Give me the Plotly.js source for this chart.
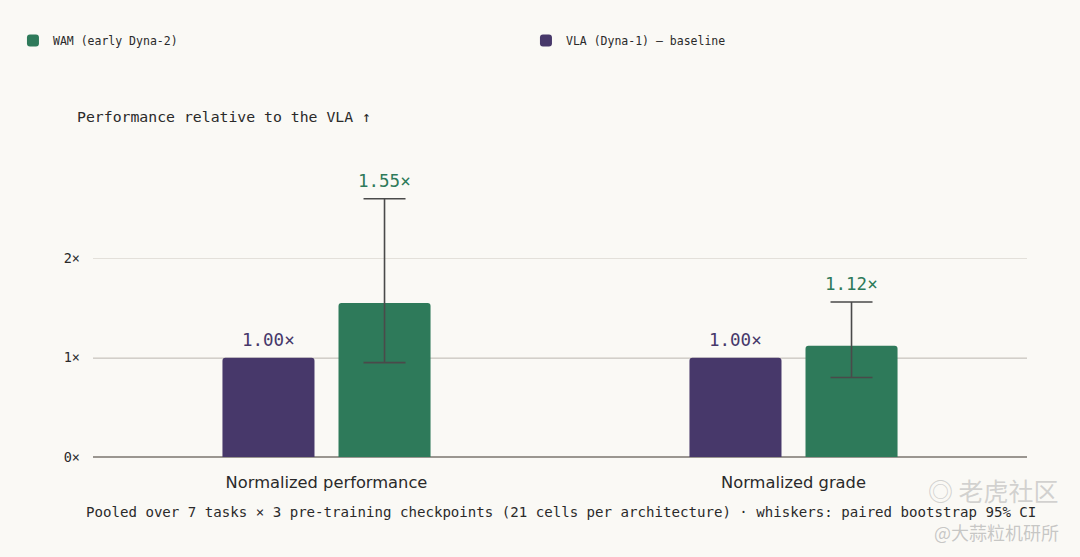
<!DOCTYPE html>
<html>
<head>
<meta charset="utf-8">
<script src="https://cdn.plot.ly/plotly-3.0.1.min.js"></script>
<style>html,body{margin:0;padding:0;background:#faf9f5;}#chart{width:1080px;height:557px;}</style>
</head>
<body>
<div id="chart"></div>
<script>
const categories = ["Normalized performance", "Normalized grade"];
const vlaValues = [1.00, 1.00];
const wamValues = [1.55, 1.12];
const wamCiLow = [0.95, 0.80];
const wamCiHigh = [2.60, 1.56];
const tickVals = [0, 1, 2];
const tickLabels = ["0×", "1×", "2×"];

const purple = "#47386a";
const green = "#2e7a5a";
const mono = "DejaVu Sans Mono, monospace";

const vla = {
  type: "bar", name: "VLA (Dyna-1) — baseline", x: categories, y: vlaValues,
  marker: {color: purple, cornerradius: 3}, legend: "legend2", hoverinfo: "none"
};
const wam = {
  type: "bar", name: "WAM (early Dyna-2)", x: categories, y: wamValues,
  marker: {color: green, cornerradius: 3}, legend: "legend", hoverinfo: "none",
  error_y: {
    type: "data", symmetric: false,
    array: wamValues.map((v, i) => wamCiHigh[i] - v),
    arrayminus: wamValues.map((v, i) => v - wamCiLow[i]),
    color: "#4a4a4a", thickness: 1.6, width: 21
  }
};

const annotations = [];
categories.forEach((c, i) => {
  annotations.push({
    x: i - 0.125, y: vlaValues[i], xref: "x", yref: "y",
    text: vlaValues[i].toFixed(2) + "×", showarrow: false, yanchor: "bottom", yshift: 6,
    font: {family: mono, size: 17.5, color: purple}
  });
  annotations.push({
    x: i + 0.125, y: Math.max(wamValues[i], wamCiHigh[i]), xref: "x", yref: "y",
    text: wamValues[i].toFixed(2) + "×", showarrow: false, yanchor: "bottom", yshift: 6,
    font: {family: mono, size: 17.5, color: green}
  });
});
annotations.push({
  xref: "paper", yref: "paper", x: -0.019, y: 1, xanchor: "left", yanchor: "middle",
  yshift: 43, text: "Performance relative to the VLA ↑", showarrow: false,
  font: {family: mono, size: 14.8, color: "#2a2a2a"}
});
annotations.push({
  xref: "paper", yref: "paper", x: -0.0095, y: 0, xanchor: "left", yanchor: "middle",
  yshift: -55, text: "Pooled over 7 tasks × 3 pre-training checkpoints (21 cells per architecture) · whiskers: paired bootstrap 95% CI",
  showarrow: false, font: {family: mono, size: 14.1, color: "#2a2a2a"}
});
annotations.push({
  xref: "paper", yref: "paper", x: 1.036, y: 0, xanchor: "right", yanchor: "middle",
  yshift: -33, text: "◎ 老虎社区", showarrow: false,
  font: {family: "Noto Sans CJK SC", size: 25, color: "rgba(175,175,175,0.55)"}
});
annotations.push({
  xref: "paper", yref: "paper", x: 1.036, y: 0, xanchor: "right", yanchor: "middle",
  yshift: -75, text: "@大蒜粒机研所", showarrow: false,
  font: {family: "Noto Sans CJK SC", size: 18, color: "rgba(165,165,165,0.6)"}
});

const legendFont = {family: mono, size: 11.5, color: "#2a2a2a"};
const layout = {
  width: 1080, height: 557,
  paper_bgcolor: "#faf9f5", plot_bgcolor: "#faf9f5",
  margin: {l: 93, r: 53, t: 158.5, b: 100},
  barmode: "group", bargap: 0.503, bargroupgap: 0.207,
  showlegend: true,
  legend: {
    orientation: "h", x: 0.012, y: 1 - 26 / 557, xref: "container", yref: "container",
    xanchor: "left", yanchor: "top", font: legendFont, bgcolor: "rgba(0,0,0,0)", itemwidth: 30
  },
  legend2: {
    orientation: "h", x: 0.487, y: 1 - 26 / 557, xref: "container", yref: "container",
    xanchor: "left", yanchor: "top", font: legendFont, bgcolor: "rgba(0,0,0,0)", itemwidth: 30
  },
  xaxis: {
    type: "category", showgrid: false, zeroline: false, showline: false,
    ticks: "", ticklabelstandoff: 14,
    tickfont: {family: "DejaVu Sans, sans-serif", size: 16.3, color: "#2a2a2a"},
    fixedrange: true
  },
  yaxis: {
    range: [0, 3], tickvals: tickVals, ticktext: tickLabels,
    showgrid: true, gridcolor: "#e3e0da", gridwidth: 1,
    zeroline: true, zerolinecolor: "#9a9690", zerolinewidth: 1.5,
    showline: false, ticks: "", ticklabelstandoff: 12,
    tickfont: {family: mono, size: 13.5, color: "#2a2a2a"}, fixedrange: true
  },
  shapes: [{
    type: "line", xref: "paper", yref: "y", x0: 0, x1: 1, y0: 1, y1: 1,
    line: {color: "#a9a59f", width: 1.5}, layer: "below"
  }],
  annotations: annotations
};

Plotly.newPlot("chart", [vla, wam], layout, {displayModeBar: false, staticPlot: true});
</script>
</body>
</html>
